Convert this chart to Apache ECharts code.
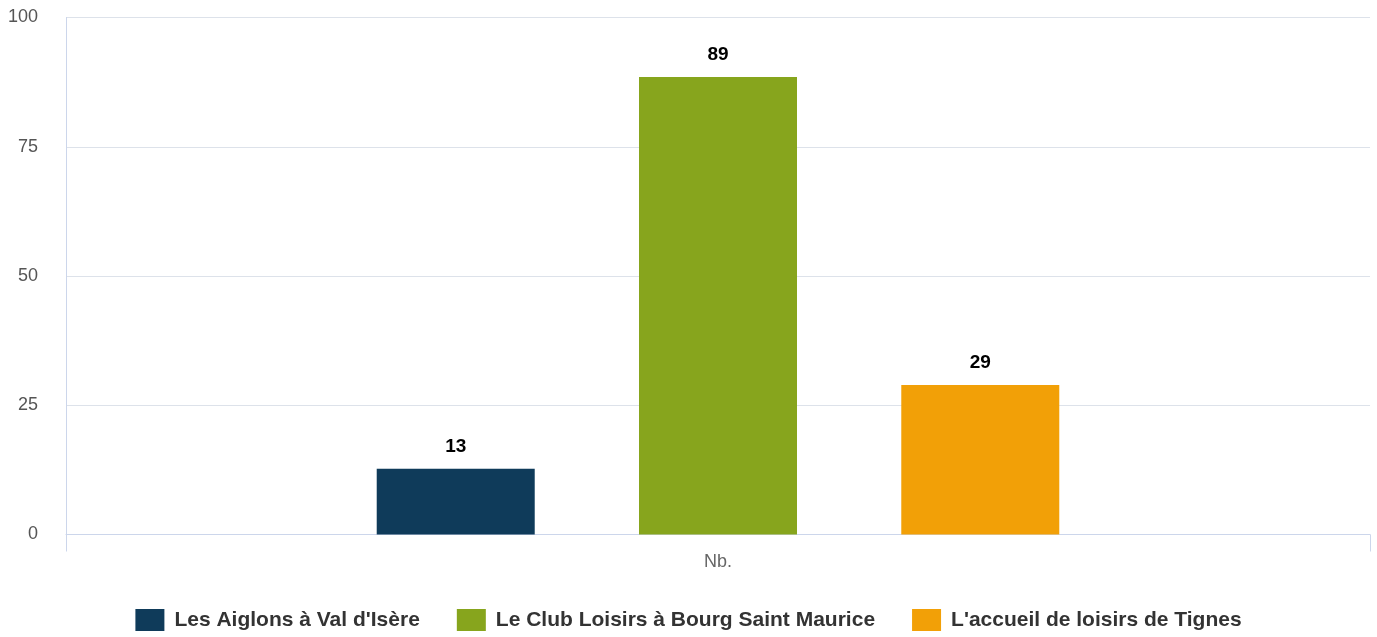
<!DOCTYPE html>
<html>
<head>
<meta charset="utf-8">
<script src="https://cdn.jsdelivr.net/npm/echarts@6/dist/echarts.min.js"></script>
<style>html,body{margin:0;padding:0;background:#fff}#c{width:1377px;height:637px}</style>
</head>
<body>
<div id="c"></div>
<script>
const categories = ['Nb.'];
const seriesNames = ["Les Aiglons à Val d'Isère", "Le Club Loisirs à Bourg Saint Maurice", "L'accueil de loisirs de Tignes"];
const aiglons = [12.7];
const clubLoisirs = [88.5];
const tignes = [28.9];
const colors = ['#0f3b5a', '#87a51d', '#f2a007'];
const yTicks = [0, 25, 50, 75, 100];

const font = 'Liberation Sans, Arial, Helvetica, sans-serif';
const chart = echarts.init(document.getElementById('c'));
const values = [aiglons, clubLoisirs, tignes];
chart.setOption({
  animation: false,
  textStyle: { fontFamily: font },
  grid: { left: 66, right: 7, top: 17.5, bottom: 102.5, containLabel: false },
  legend: {
    top: 604, left: 'center',
    itemWidth: 29, itemHeight: 22, itemGap: 37,
    icon: 'rect',
    textStyle: { fontSize: 21, fontWeight: 'bold', color: '#333', fontFamily: font, padding: [0, 0, 0, 5] },
    data: seriesNames
  },
  xAxis: {
    type: 'category', data: categories,
    axisLine: { lineStyle: { color: '#ccd6eb', width: 1 } },
    axisTick: { show: true, length: 17, lineStyle: { color: '#ccd6eb' } },
    axisLabel: { fontSize: 18, color: '#666', margin: 19, fontFamily: font }
  },
  yAxis: {
    type: 'value', min: yTicks[0], max: yTicks[yTicks.length - 1], interval: 25,
    axisLine: { show: true, lineStyle: { color: '#ccd6eb' } },
    axisTick: { show: false },
    axisLabel: { fontSize: 18, color: '#555', margin: 28, fontFamily: font },
    splitLine: { lineStyle: { color: '#dde2ea' } }
  },
  series: seriesNames.map((n, i) => ({
    name: n, type: 'bar', data: values[i],
    barWidth: 158, barGap: '66%',
    itemStyle: { color: colors[i] },
    label: {
      show: true, position: 'top', distance: 13,
      fontSize: 19, fontWeight: 'bold', color: '#000', fontFamily: font,
      formatter: p => Math.round(p.value)
    }
  }))
});
</script>
</body>
</html>
